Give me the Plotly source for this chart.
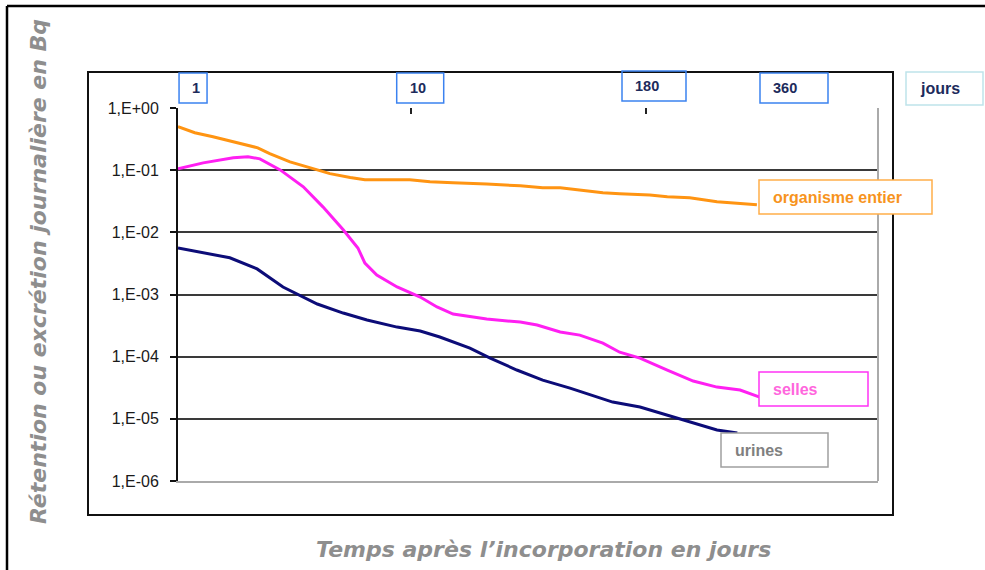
import plotly.graph_objects as go

# Position along the time axis (0 = first measurement, 100 = end of the axis)
pos_entier = [0, 2.4, 5, 7.9, 11.4, 13.1, 16, 19.9, 21.7, 24.6, 26.7, 33.1, 36, 39.3,
              44.1, 48.9, 52.1, 54.6, 58.4, 60.7, 63.1, 67.4, 69.9, 73.1, 77, 82.7]
val_entier = [0.50, 0.40, 0.345, 0.286, 0.229, 0.184, 0.136, 0.101, 0.088, 0.076, 0.070,
              0.070, 0.065, 0.0625, 0.060, 0.056, 0.052, 0.052, 0.0466, 0.0432, 0.0417,
              0.040, 0.0373, 0.0359, 0.031, 0.0277]

pos_selles = [0, 3.6, 7.9, 10, 11.7, 14.6, 17.9, 20.7, 23.6, 25.7, 26.7, 28.4, 31.3, 34.6,
              37, 39.3, 44.1, 48.9, 51.3, 54.6, 57.4, 60.7, 63.1, 66, 69.9, 73.6, 77, 80.3, 83.1]
val_selles = [0.105, 0.131, 0.158, 0.164, 0.152, 0.101, 0.054, 0.0257, 0.011, 0.0056,
              0.0032, 0.00206, 0.00132, 0.00091, 0.00063, 0.000485, 0.000403, 0.00036,
              0.000323, 0.000249, 0.000222, 0.000165, 0.000118, 9.5e-5, 6.1e-5, 4.05e-5,
              3.24e-5, 2.9e-5, 2.24e-5]

pos_urines = [0, 3.6, 7.4, 11.3, 15, 19.9, 23.6, 27, 31.3, 34.6, 37.4, 41.7, 44.6, 48.4,
              52.1, 56, 59.9, 62.1, 66, 69.9, 73.6, 77, 79.9]
val_urines = [0.0056, 0.0047, 0.0039, 0.00258, 0.00132, 0.000703, 0.000503, 0.000388,
              0.000299, 0.000258, 0.000207, 0.000137, 9.5e-5, 6.1e-5, 4.2e-5, 3.12e-5,
              2.24e-5, 1.86e-5, 1.55e-5, 1.15e-5, 8.5e-6, 6.6e-6, 5.9e-6]

# Day markers shown above the plot
day_labels = ["1", "10", "180", "360"]
day_pos = [2.15, 34.6, 68.0, 88.0]
day_box_w = [28, 47, 64, 68]
tick_pos = [33.3, 66.9]

y_ticks = [1, 1e-1, 1e-2, 1e-3, 1e-4, 1e-5, 1e-6]
y_tick_text = ["1,E+00", "1,E-01", "1,E-02", "1,E-03", "1,E-04", "1,E-05", "1,E-06"]

W, H = 985, 570
L, R, T, B = 178, 878, 108, 481


def px(xp):
    return (xp - L) / (R - L)


def py(yp):
    return (B - yp) / (B - T)


fig = go.Figure()
fig.add_trace(go.Scatter(x=pos_entier, y=val_entier, mode="lines",
                         line=dict(color="#ff9412", width=3), hoverinfo="skip"))
fig.add_trace(go.Scatter(x=pos_selles, y=val_selles, mode="lines",
                         line=dict(color="#ff1ff2", width=3), hoverinfo="skip"))
fig.add_trace(go.Scatter(x=pos_urines, y=val_urines, mode="lines",
                         line=dict(color="#0c0c78", width=3), hoverinfo="skip"))
# carrier for the top tick axis
fig.add_trace(go.Scatter(x=[None], y=[None], xaxis="x2", mode="lines",
                         hoverinfo="skip", showlegend=False))

shapes = []
annotations = []

# outer frame (top and left edges)
shapes.append(dict(type="line", xref="paper", yref="paper", x0=px(7), x1=px(990),
                   y0=py(6), y1=py(6), line=dict(color="#000", width=2.5)))
shapes.append(dict(type="line", xref="paper", yref="paper", x0=px(7), x1=px(7),
                   y0=py(6), y1=py(575), line=dict(color="#000", width=2.5)))
# chart box
shapes.append(dict(type="rect", xref="paper", yref="paper", x0=px(88), x1=px(893),
                   y0=py(515), y1=py(72), line=dict(color="#111", width=2),
                   layer="below"))
# right border of plot area
shapes.append(dict(type="line", xref="paper", yref="paper", x0=1, x1=1, y0=0, y1=1,
                   line=dict(color="#aaaaaa", width=2)))

# day marker boxes
for lab, p, w in zip(day_labels, day_pos, day_box_w):
    top = 71 if lab == "180" else 73
    shapes.append(dict(type="rect", xref="x", yref="paper", xsizemode="pixel",
                       xanchor=p, x0=-w / 2, x1=w / 2, y0=py(top + 30), y1=py(top),
                       line=dict(color="#3b82f0", width=1.5)))
    annotations.append(dict(x=p, xref="x", y=py(top + 15), yref="paper", text=lab,
                            showarrow=False, xanchor="left", yanchor="middle",
                            xshift=-w / 2 + 11,
                            font=dict(family="Liberation Sans", size=14.5,
                                      color="#1d2b5c", weight="bold")))

# unit box
shapes.append(dict(type="rect", xref="paper", yref="paper", x0=px(906), x1=px(983),
                   y0=py(105), y1=py(72), line=dict(color="#bfe3ea", width=1.5)))
annotations.append(dict(x=px(918), xref="paper", y=py(89), yref="paper", text="jours",
                        showarrow=False, xanchor="left", yanchor="middle",
                        font=dict(family="Liberation Sans", size=16,
                                  color="#1d2b5c", weight="bold")))

# series label boxes
series_boxes = [
    ("organisme entier", 759, 932, 180, 214, "#ffae4a", "#f7941d"),
    ("selles", 759, 868, 372, 406, "#ff33f5", "#ff66dd"),
    ("urines", 721, 828, 433, 467, "#a0a0a0", "#808080"),
]
for text, x0, x1, y0, y1, bc, tc in series_boxes:
    shapes.append(dict(type="rect", xref="paper", yref="paper", x0=px(x0), x1=px(x1),
                       y0=py(y1), y1=py(y0), fillcolor="white",
                       line=dict(color=bc, width=1.5)))
    annotations.append(dict(x=px(x0 + 12), xref="paper", y=py((y0 + y1) / 2),
                            yref="paper", text=text, showarrow=False, xanchor="left",
                            yanchor="middle",
                            font=dict(family="Liberation Sans", size=16, color=tc,
                                      weight="bold")))

# axis titles
annotations.append(dict(x=px(38), xref="paper", y=py(272), yref="paper",
                        text="Rétention ou excrétion journalière en Bq", textangle=-90,
                        showarrow=False, xanchor="center", yanchor="middle",
                        font=dict(family="DejaVu Sans", size=22, color="#8e8e8e",
                                  style="italic", weight="bold")))
annotations.append(dict(x=px(543), xref="paper", y=py(549), yref="paper",
                        text="Temps après l’incorporation en jours", showarrow=False,
                        xanchor="center", yanchor="middle",
                        font=dict(family="DejaVu Sans", size=22, color="#8e8e8e",
                                  style="italic", weight="bold")))

fig.update_layout(
    width=W, height=H,
    margin=dict(l=L, r=W - R, t=T, b=H - B),
    paper_bgcolor="white", plot_bgcolor="white",
    showlegend=False,
    shapes=shapes, annotations=annotations,
    xaxis=dict(range=[0, 100], showgrid=False, zeroline=False, showticklabels=False,
               ticks="", showline=True, linecolor="#aaaaaa", linewidth=2),
    xaxis2=dict(range=[0, 100], overlaying="x", side="top", anchor="y",
                showgrid=False, zeroline=False, showticklabels=False,
                tickvals=tick_pos, ticks="inside", ticklen=6, tickwidth=1.5,
                tickcolor="#222", showline=False),
    yaxis=dict(type="log", range=[-6, 0], tickvals=y_ticks, ticktext=y_tick_text,
               showgrid=True, gridcolor="#3a3a3a", gridwidth=2, zeroline=False,
               showline=True, linecolor="#111", linewidth=2, ticks="outside",
               ticklen=6, tickwidth=2, tickcolor="#111", ticklabelstandoff=8,
               tickfont=dict(family="Liberation Sans", size=16, color="#1a1a1a")),
)

fig.write_html("out.html")
